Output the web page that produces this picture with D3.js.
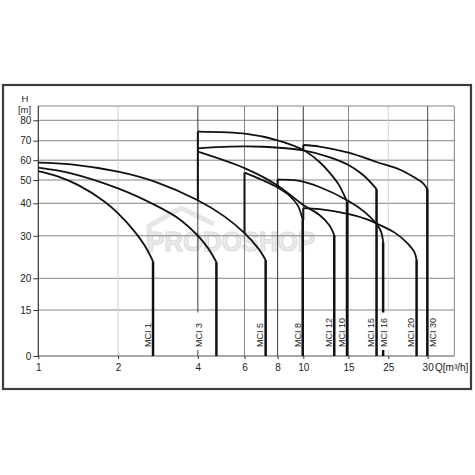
<!DOCTYPE html>
<html><head><meta charset="utf-8">
<script src="https://cdn.jsdelivr.net/npm/d3@7"></script>
<style>
body{margin:0;background:#fff}
svg{display:block}
text{font-family:"Liberation Sans",Arial,Helvetica,sans-serif}
</style>
</head><body>
<svg id="c" width="475" height="475"></svg>
<script>
// ---------------- DATA ----------------
const xTicks = [1, 2, 4, 6, 8, 10, 15, 25, 30];
const yTicks = [0, 15, 20, 30, 40, 50, 60, 70, 80];
const pumpNames = ["MCI 1","MCI 3","MCI 5","MCI 8","MCI 12","MCI 10","MCI 15","MCI 16","MCI 20","MCI 30"];

const curveMCI1  = [[1,54.5],[1.19,51.7],[1.41,47.9],[1.78,40.7],[2.0,36.9],[2.31,31.3],[2.52,27.7],[2.71,24.0]];
const curveMCI3  = [[1,56.3],[1.33,53.4],[2.0,46.4],[2.75,39.5],[3.37,35.4],[3.98,30.2],[4.37,27.1],[4.70,23.8]];
const curveMCI5  = [[1,58.8],[1.33,57.9],[2.0,54.2],[2.75,49.3],[3.98,41.4],[5.05,35.9],[6.0,30.8],[6.75,27.1],[7.21,24.3]];
const curveMCI8  = [[6,53.7],[7,50.0],[7.94,47.0],[8.91,43.1],[9.55,39.2],[9.95,34.9]];
const curveMCI12 = [[4,64.4],[6.03,55.9],[7.94,47.9],[10,39.5],[11.56,36.4],[12.61,33.3],[13.2,30.2]];
const curveMCI10 = [[4,74.4],[6.11,73.3],[7.94,70.3],[10,65.2],[11.56,59.1],[12.61,54.0],[13.76,47.9],[14.8,40.7]];
const curveMCI15 = [[4,66.1],[5.29,67.0],[7.07,66.9],[10,65.0],[12.61,61.6],[15,57.6],[18.1,52.5],[21.5,46.1]];
const curveMCI16 = [[8,50.2],[9.44,49.8],[11.56,47.0],[15,41.0],[18.5,37.3],[21.5,33.6],[22.8,31.2],[23.4,28.5]];
const curveMCI20 = [[10,38.5],[11.56,38.2],[14.58,36.9],[18.5,35.3],[22.5,33.3],[25.8,30.9],[27.3,28.3],[28.2,26.2],[28.5,24.3]];
const curveMCI30 = [[10,67.8],[11.56,67.0],[15,63.9],[21.5,59.1],[26.4,55.2],[28.3,51.1],[29.35,48.7],[29.95,46.1]];
const pumpCurves = [curveMCI1,curveMCI3,curveMCI5,curveMCI8,curveMCI12,curveMCI10,curveMCI15,curveMCI16,curveMCI20,curveMCI30];
// lower head of the vertical line at each curve's start (null = none)
const startLowH = [null,null,null,30.8,null,41.4,null,47.0,34.9,65.0];

// ---------------- LAYOUT / STYLE ----------------
const L = 38.3, R = 454.3, T = 106, B = 356, W = R - L, PH = B - T;
// axis break points (irregular printed scales)
const xBreaks = [1, 10, 15, 25, 30, 34];
const xBreakFrac = [0, 0.637, 0.7457, 0.8413, 0.936, 1];
const yBreaks = [0, 15, 20, 30, 40, 50, 60, 70, 80, 87];
const yBreakFrac = [0, 0.184, 0.3108, 0.4808, 0.6108, 0.704, 0.7832, 0.8612, 0.9428, 1];
const gridTone = {2:"#cfcfcf",4:"#3a3a3a",6:"#858585",8:"#3a3a3a",10:"#3a3a3a",15:"#858585",25:"#cfcfcf",30:"#4a4a4a"};
// label placement: pixel offset from end line, optional white background
const labelLayout = {
  "MCI 1":{dx:-5},"MCI 3":{atGrid:4,bg:true},"MCI 5":{dx:-5.5},"MCI 8":{dx:-5},
  "MCI 12":{dx:-5},"MCI 10":{dx:-5},"MCI 15":{dx:-6},"MCI 16":{dx:1.2,bg:true},
  "MCI 20":{dx:-5.5},"MCI 30":{dx:6}
};

// ---------------- SCALES ----------------
const xLog = d3.scaleLinear().domain(xBreaks.map(Math.log10)).range(xBreakFrac.map(f => L + f * W));
const x = q => xLog(Math.log10(q));
const y = d3.scaleLinear().domain(yBreaks).range(yBreakFrac.map(f => B - f * PH));

const svg = d3.select("#c");

// outer frame
svg.append("rect").attr("x",3).attr("y",85).attr("width",468).attr("height",304)
  .attr("fill","none").attr("stroke","#3c3c3c").attr("stroke-width",2.2);

// watermark
const wm = svg.append("g");
wm.append("path").attr("d","M149,242 V226 L181,208 L214,224")
  .attr("fill","none").attr("stroke","#e6e6e6").attr("stroke-width",5).attr("stroke-linejoin","miter");
wm.append("text").attr("x",147).attr("y",251).attr("font-size",27).attr("font-weight","bold")
  .attr("textLength",168).attr("lengthAdjust","spacingAndGlyphs")
  .attr("fill","#ebebeb").attr("stroke","#dcdcdc").attr("stroke-width",1.2).text("PRODOSHOP");

// grid
const grid = svg.append("g");
grid.selectAll("line.h").data(yTicks.filter(d => d > 0)).join("line")
  .attr("x1",L).attr("x2",R).attr("y1",d=>y(d)).attr("y2",d=>y(d))
  .attr("stroke","#858585").attr("stroke-width",1);
grid.selectAll("line.v").data(xTicks.filter(d => d > 1)).join("line")
  .attr("x1",d=>x(d)).attr("x2",d=>x(d)).attr("y1",T).attr("y2",B)
  .attr("stroke",d=>gridTone[d]).attr("stroke-width",1);
// plot frame
grid.append("line").attr("x1",L).attr("x2",R).attr("y1",T).attr("y2",T).attr("stroke","#858585");
grid.append("line").attr("x1",R).attr("x2",R).attr("y1",T).attr("y2",B).attr("stroke","#858585");
grid.append("line").attr("x1",L).attr("x2",R).attr("y1",B).attr("y2",B).attr("stroke","#555");
grid.append("line").attr("x1",L).attr("x2",L).attr("y1",T).attr("y2",B).attr("stroke","#333").attr("stroke-width",1.2);

// axes
const ya = svg.append("g").attr("transform",`translate(${L},0)`)
  .call(d3.axisLeft(y).tickValues(yTicks).tickSize(5).tickPadding(2));
ya.select(".domain").remove();
ya.selectAll("line").attr("stroke","#333");
ya.selectAll("text").attr("font-size",10).attr("fill","#222").attr("font-family",null);

const xa = svg.append("g").attr("transform",`translate(0,${B})`)
  .call(d3.axisBottom(xLog).tickValues(xTicks.map(Math.log10)).tickFormat((d,i)=>xTicks[i]).tickSize(3).tickPadding(4.5));
xa.select(".domain").remove();
xa.selectAll("line").attr("stroke","#333");
xa.selectAll("text").attr("font-size",10).attr("fill","#222").attr("font-family",null);

svg.append("text").attr("x",435).attr("y",370.6).attr("font-size",10).attr("fill","#222").text("Q[m³/h]");
svg.append("text").attr("x",25).attr("y",102).attr("text-anchor","middle").attr("font-size",9.5).attr("fill","#222").text("H");
svg.append("text").attr("x",24.5).attr("y",113).attr("text-anchor","middle").attr("font-size",9.5).attr("fill","#222").text("[m]");

// curves
const line = d3.line().x(d=>x(d[0])).y(d=>y(d[1])).curve(d3.curveCatmullRom.alpha(0.5));
const marks = svg.append("g");
pumpCurves.forEach((c,i) => {
  marks.append("path").attr("d",line(c)).attr("fill","none").attr("stroke","#111").attr("stroke-width",1.8);
  const s = c[0], e = c[c.length-1];
  if (startLowH[i] !== null) {
    marks.append("line").attr("x1",x(s[0])).attr("x2",x(s[0])).attr("y1",y(startLowH[i])).attr("y2",y(s[1]))
      .attr("stroke","#111").attr("stroke-width",2);
  }
  marks.append("line").attr("x1",x(e[0])).attr("x2",x(e[0])).attr("y1",y(e[1])).attr("y2",y(0))
    .attr("stroke","#111").attr("stroke-width",2.5);
});

// labels
pumpNames.forEach((name,i) => {
  const c = pumpCurves[i], e = c[c.length-1];
  const lay = labelLayout[name];
  const cx = lay.atGrid !== undefined ? x(lay.atGrid) + 0.8 : x(e[0]) + lay.dx;
  const y0 = y(0) - 9;
  if (lay.bg) {
    svg.append("rect").attr("x",cx-4.5).attr("y",y(15)+2.5).attr("width",9).attr("height",(y0+3)-(y(15)+2.5)).attr("fill","#fff");
  }
  svg.append("text").attr("transform",`translate(${cx},${y0}) rotate(-90)`)
    .attr("dy","0.35em").attr("font-size",9).attr("fill","#222").text(name);
});
</script>
</body></html>
